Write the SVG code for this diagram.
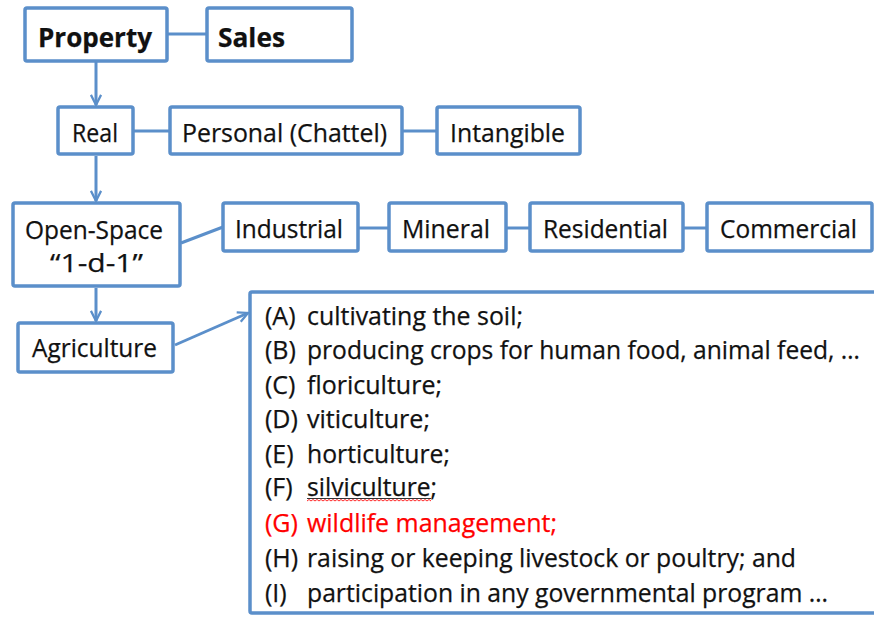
<svg xmlns="http://www.w3.org/2000/svg" width="874" height="617" viewBox="0 0 874 617">
  <style>
    .box { fill: #ffffff; stroke: #5b8fca; stroke-width: 3.5; }
    .lbl { font-family: "Open Sans", "Liberation Sans", sans-serif; font-size: 25px; fill: #111111; stroke: #111111; stroke-width: 0.25; }
    .bold { font-weight: bold; font-size: 27px; }
    .item { font-family: "Open Sans", "Liberation Sans", sans-serif; font-size: 25px; fill: #111111; stroke: #111111; stroke-width: 0.25; }
    .red { fill: #ff0000; stroke: #ff0000; }
    .link { fill: none; stroke: #5b8fca; stroke-width: 3; }
    .arrow { fill: none; stroke: #5b8fca; stroke-width: 3; marker-end: url(#vhead); }
  </style>
  <defs>
    <marker id="vhead" viewBox="0 0 12 12" refX="11" refY="6" markerWidth="4.5" markerHeight="4.5" orient="auto" markerUnits="strokeWidth">
      <polyline points="2,1.5 11,6 2,10.5" fill="none" stroke="#5b8fca" stroke-width="2" stroke-linejoin="miter"/>
    </marker>
  </defs>

  <rect width="874" height="617" fill="#ffffff"/>

  <!-- connectors -->
  <g id="connectors">
    <line class="link" x1="167" y1="34" x2="207" y2="34"/>
    <line class="link" x1="133" y1="131" x2="170" y2="131"/>
    <line class="link" x1="402" y1="131" x2="437" y2="131"/>
    <line class="link" x1="181" y1="243" x2="223" y2="227"/>
    <line class="link" x1="358" y1="228" x2="389" y2="228"/>
    <line class="link" x1="506" y1="228" x2="530" y2="228"/>
    <line class="link" x1="683" y1="228" x2="707" y2="228"/>
    <line class="arrow" x1="96" y1="62" x2="96" y2="105"/>
    <line class="arrow" x1="96" y1="156" x2="96" y2="201"/>
    <line class="arrow" x1="96" y1="288" x2="96" y2="321"/>
    <line class="arrow" x1="175" y1="345" x2="248" y2="313"/>
  </g>

  <g id="property">
    <rect class="box" x="25" y="8" width="142" height="53" rx="2"/>
    <text class="lbl bold" x="38" y="47" textLength="114" lengthAdjust="spacingAndGlyphs">Property</text>
  </g>
  <g id="sales">
    <rect class="box" x="207" y="8" width="145" height="53" rx="2"/>
    <text class="lbl bold" x="218" y="47" textLength="67" lengthAdjust="spacingAndGlyphs">Sales</text>
  </g>

  <g id="real">
    <rect class="box" x="58" y="107" width="75" height="47" rx="2"/>
    <text class="lbl" x="72" y="142" textLength="46" lengthAdjust="spacingAndGlyphs">Real</text>
  </g>
  <g id="personal">
    <rect class="box" x="170" y="107" width="232" height="47" rx="2"/>
    <text class="lbl" x="182" y="142" textLength="205" lengthAdjust="spacingAndGlyphs">Personal (Chattel)</text>
  </g>
  <g id="intangible">
    <rect class="box" x="437" y="107" width="143" height="47" rx="2"/>
    <text class="lbl" x="450" y="142" textLength="115" lengthAdjust="spacingAndGlyphs">Intangible</text>
  </g>

  <g id="open-space">
    <rect class="box" x="13" y="203" width="167" height="83" rx="2"/>
    <text class="lbl" x="25" y="239" textLength="138" lengthAdjust="spacingAndGlyphs">Open-Space</text>
    <text class="lbl" x="50" y="272" textLength="93" lengthAdjust="spacingAndGlyphs">“1-d-1”</text>
  </g>
  <g id="industrial">
    <rect class="box" x="223" y="203" width="135" height="48" rx="2"/>
    <text class="lbl" x="235" y="238" textLength="108" lengthAdjust="spacingAndGlyphs">Industrial</text>
  </g>
  <g id="mineral">
    <rect class="box" x="389" y="203" width="117" height="48" rx="2"/>
    <text class="lbl" x="402" y="238" textLength="88" lengthAdjust="spacingAndGlyphs">Mineral</text>
  </g>
  <g id="residential">
    <rect class="box" x="530" y="203" width="153" height="48" rx="2"/>
    <text class="lbl" x="543" y="238" textLength="125" lengthAdjust="spacingAndGlyphs">Residential</text>
  </g>
  <g id="commercial">
    <rect class="box" x="707" y="203" width="165" height="48" rx="2"/>
    <text class="lbl" x="720" y="238" textLength="137" lengthAdjust="spacingAndGlyphs">Commercial</text>
  </g>

  <g id="agriculture">
    <rect class="box" x="18" y="323" width="155" height="49" rx="2"/>
    <text class="lbl" x="32" y="357" textLength="125" lengthAdjust="spacingAndGlyphs">Agriculture</text>
  </g>

  <g id="agriculture-uses">
    <rect class="box" x="250" y="292" width="640" height="321" rx="2"/>
    <g class="item">
      <text x="265" y="325">(A)</text>
      <text x="307" y="325" textLength="216" lengthAdjust="spacingAndGlyphs">cultivating the soil;</text>
      <text x="265" y="359">(B)</text>
      <text x="307" y="359" textLength="553" lengthAdjust="spacingAndGlyphs">producing crops for human food, animal feed, …</text>
      <text x="265" y="394">(C)</text>
      <text x="307" y="394" textLength="135" lengthAdjust="spacingAndGlyphs">floriculture;</text>
      <text x="265" y="428">(D)</text>
      <text x="307" y="428" textLength="123" lengthAdjust="spacingAndGlyphs">viticulture;</text>
      <text x="265" y="463">(E)</text>
      <text x="307" y="463" textLength="143" lengthAdjust="spacingAndGlyphs">horticulture;</text>
      <text x="265" y="496">(F)</text>
      <text x="307" y="496" textLength="130" lengthAdjust="spacingAndGlyphs">silviculture;</text>
      <text class="red" x="265" y="532">(G)</text>
      <text class="red" x="307" y="532" textLength="250" lengthAdjust="spacingAndGlyphs">wildlife management;</text>
      <text x="265" y="567">(H)</text>
      <text x="307" y="567" textLength="489" lengthAdjust="spacingAndGlyphs">raising or keeping livestock or poultry; and</text>
      <text x="265" y="602">(I)</text>
      <text x="307" y="602" textLength="521" lengthAdjust="spacingAndGlyphs">participation in any governmental program …</text>
    </g>
    <!-- underline and spell-check squiggle under "silviculture" -->
    <line x1="307" y1="498.5" x2="431" y2="498.5" stroke="#333333" stroke-width="1"/>
    <polyline fill="none" stroke="#ff2a2a" stroke-width="1" points="307,501 309,499.5 311,501 313,499.5 315,501 317,499.5 319,501 321,499.5 323,501 325,499.5 327,501 329,499.5 331,501 333,499.5 335,501 337,499.5 339,501 341,499.5 343,501 345,499.5 347,501 349,499.5 351,501 353,499.5 355,501 357,499.5 359,501 361,499.5 363,501 365,499.5 367,501 369,499.5 371,501 373,499.5 375,501 377,499.5 379,501 381,499.5 383,501 385,499.5 387,501 389,499.5 391,501 393,499.5 395,501 397,499.5 399,501 401,499.5 403,501 405,499.5 407,501 409,499.5 411,501 413,499.5 415,501 417,499.5 419,501 421,499.5 423,501 425,499.5 427,501 429,499.5 431,501"/>
  </g>
</svg>
